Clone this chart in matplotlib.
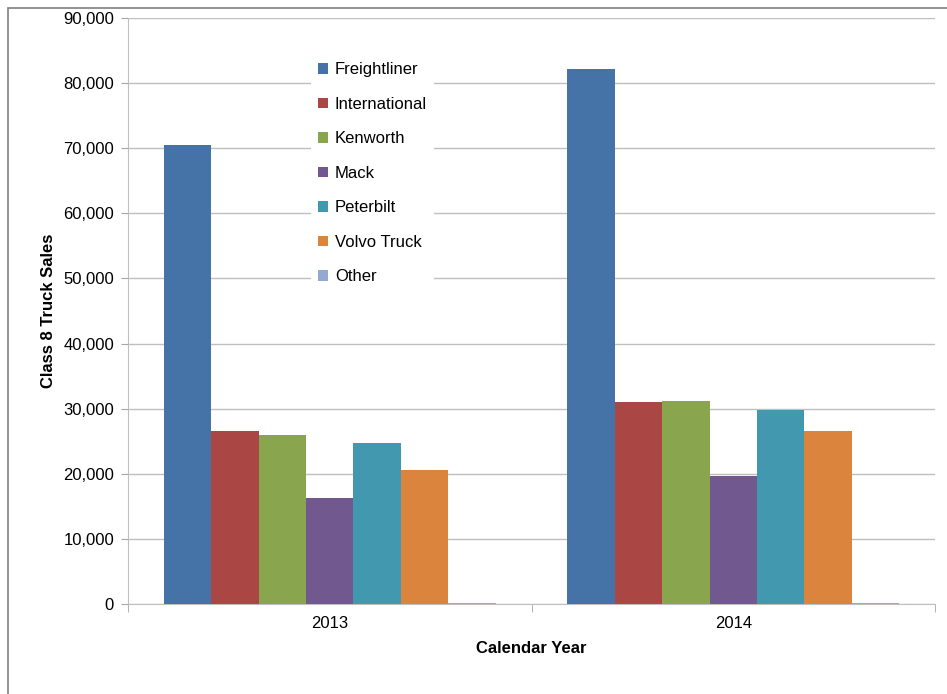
import numpy as np
import matplotlib.pyplot as plt
from matplotlib.patches import Rectangle
from matplotlib.ticker import FuncFormatter

plt.rcParams["font.family"] = ["Liberation Sans", "DejaVu Sans"]

years = ["2013", "2014"]
brands = ["Freightliner", "International", "Kenworth", "Mack", "Peterbilt", "Volvo Truck", "Other"]
sales = {
    "Freightliner": [70500, 82100],
    "International": [26600, 31000],
    "Kenworth": [26000, 31200],
    "Mack": [16300, 19600],
    "Peterbilt": [24700, 29800],
    "Volvo Truck": [20600, 26600],
    "Other": [200, 200],
}
colors = ["#4572A7", "#AA4643", "#89A54E", "#71588F", "#4198AF", "#DB843D", "#93A9CF"]

fig = plt.figure(figsize=(9.47, 6.94), dpi=100)
ax = fig.add_axes([128 / 947, 1 - 604 / 694, 807 / 947, 586 / 694])

# ramka wokół całego wykresu
fig.patches.append(Rectangle((8 / 947, -0.1), 1.2, 1 - 8 / 694 + 0.1, transform=fig.transFigure,
                             fill=False, edgecolor="#7f7f7f", linewidth=1.2))

x = np.arange(len(years))
grp = 0.823
w = grp / len(brands)
for i, b in enumerate(brands):
    ax.bar(x - grp / 2 + w * (i + 0.5), sales[b], width=w, color=colors[i], label=b, zorder=3)

ax.set_xlim(-0.5, 1.5)
ax.set_ylim(0, 90000)
ax.set_yticks(np.arange(0, 90001, 10000))
ax.yaxis.set_major_formatter(FuncFormatter(lambda v, p: f"{int(v):,}"))
ax.set_xticks(x)
ax.set_xticklabels(years)
ax.set_xticks([-0.5, 0.5, 1.5], minor=True)
ax.tick_params(axis="x", which="major", length=0, pad=9, labelsize=12)
ax.tick_params(axis="x", which="minor", length=6, color="#a6a6a6")
ax.tick_params(axis="y", length=5, color="#a6a6a6", pad=5, labelsize=12)

ax.grid(axis="y", color="#bfbfbf", linewidth=1, zorder=0)
for s in ["top", "right"]:
    ax.spines[s].set_visible(False)
ax.spines["left"].set_color("#bfbfbf")
ax.spines["bottom"].set_color("#bfbfbf")

ax.set_xlabel("Calendar Year", fontsize=12, fontweight="bold", labelpad=7)
ax.set_ylabel("Class 8 Truck Sales", fontsize=12, fontweight="bold", labelpad=5)

leg = ax.legend(loc="upper left", bbox_to_anchor=(0.217, 0.95), frameon=True, fontsize=12,
                handlelength=0.6, handleheight=0.6, handletextpad=0.4, labelspacing=1.17,
                facecolor="white", edgecolor="none", framealpha=1, fancybox=False)
leg.set_zorder(5)

plt.savefig("out.png", dpi=100)
